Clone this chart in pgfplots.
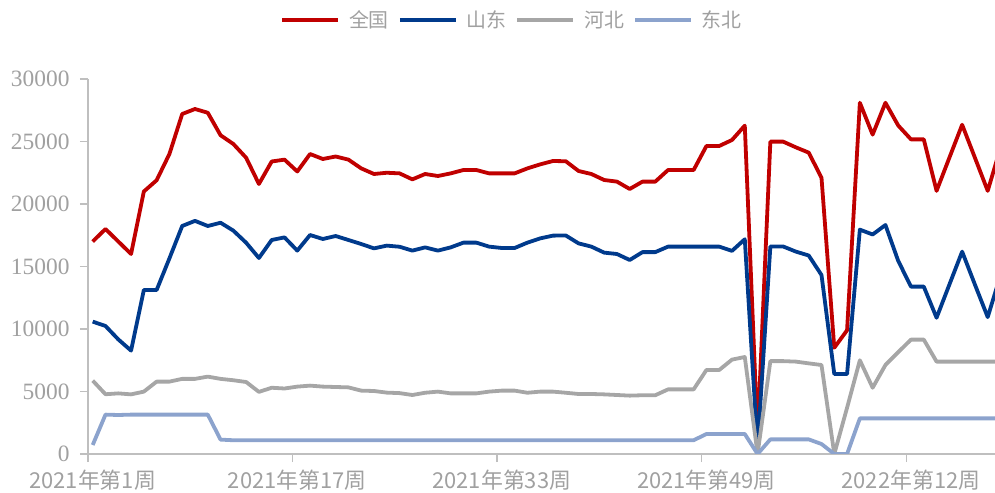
\documentclass[border=0pt]{standalone}
\usepackage{fontspec}
\setmainfont{Liberation Serif}
\newfontfamily\cjk{Noto Sans CJK SC}
\usepackage{pgfplots}
\pgfplotsset{compat=1.18}
\definecolor{cred}{RGB}{192,0,0}
\definecolor{cblue}{RGB}{0,58,140}
\definecolor{cgray}{RGB}{166,166,166}
\definecolor{clblue}{RGB}{140,163,205}
\definecolor{axisgray}{RGB}{191,191,191}
\definecolor{ticktext}{RGB}{160,160,160}
\begin{document}
\begin{tikzpicture}
\useasboundingbox (0,0) rectangle (995bp,493bp);
\begin{axis}[
  at={(88bp,39bp)}, anchor=south west,
  scale only axis, width=907bp, height=375bp,
  xmin=-0.368, xmax=70.57, ymin=0, ymax=30000,
  axis x line*=bottom, axis y line*=left,
  axis line style={draw=axisgray, line width=1.3bp},
  ytick={0,5000,10000,15000,20000,25000,30000},
  xtick={-0.368,15.632,31.632,47.632,63.632},
  xticklabels={2021年第1周,2021年第17周,2021年第33周,2021年第49周,2022年第12周},
  tick align=outside, major tick length=8bp,
  tick style={draw=axisgray, line width=1.3bp},
  /pgf/number format/assume math mode=true,
  scaled y ticks=false, /pgf/number format/1000 sep={},
  yticklabel style={font=\fontsize{23.5}{28}\selectfont, text=ticktext, xshift=-7bp},
  xticklabel style={font=\cjk\fontsize{22}{26}\selectfont, text=ticktext, xshift=4.7bp, yshift=-4.5bp},
  legend columns=4,
  legend style={at={(0.4675,1.157)}, anchor=center, draw=none, fill=none,
    font=\cjk\fontsize{20}{24}\selectfont, text=ticktext,
    /tikz/every odd column/.append style={column sep=7bp},
    /tikz/every even column/.append style={column sep=7bp}},
  legend image code/.code={\draw[#1] (0bp,0bp) -- (56bp,0bp);},
  every axis plot/.append style={line width=3.8bp, line join=round, mark=none},
]
\addplot[cred] coordinates {
(0,17000)(1,18000)(2,17000)(3,16000)(4,21000)(5,21900)(6,24000)(7,27200)(8,27600)(9,27300)
(10,25500)(11,24800)(12,23700)(13,21600)(14,23400)(15,23550)(16,22600)(17,24000)(18,23600)(19,23800)
(20,23550)(21,22850)(22,22400)(23,22500)(24,22450)(25,21970)(26,22400)(27,22240)(28,22450)(29,22720)
(30,22720)(31,22450)(32,22450)(33,22450)(34,22850)(35,23170)(36,23440)(37,23420)(38,22640)(39,22400)
(40,21920)(41,21790)(42,21200)(43,21790)(44,21790)(45,22720)(46,22720)(47,22720)(48,24640)(49,24640)
(50,25120)(51,26270)(52,1500)(53,24990)(54,24990)(55,24530)(56,24110)(57,22100)(58,8500)(59,9900)
(60,28100)(61,25550)(62,28100)(63,26280)(64,25170)(65,25170)(66,21050)(67,23700)(68,26340)(69,23700)
(70,21050)(71,24500)};
\addlegendentry{全国}
\addplot[cblue] coordinates {
(0,10590)(1,10240)(2,9170)(3,8270)(4,13120)(5,13120)(6,15650)(7,18240)(8,18650)(9,18240)
(10,18500)(11,17870)(12,16900)(13,15680)(14,17120)(15,17330)(16,16270)(17,17520)(18,17200)(19,17440)
(20,17120)(21,16800)(22,16450)(23,16670)(24,16580)(25,16270)(26,16530)(27,16270)(28,16530)(29,16910)
(30,16910)(31,16590)(32,16480)(33,16480)(34,16910)(35,17250)(36,17470)(37,17480)(38,16850)(39,16590)
(40,16110)(41,16000)(42,15520)(43,16150)(44,16150)(45,16590)(46,16590)(47,16590)(48,16590)(49,16590)
(50,16250)(51,17180)(52,500)(53,16600)(54,16600)(55,16190)(56,15880)(57,14320)(58,6400)(59,6400)
(60,17950)(61,17560)(62,18320)(63,15450)(64,13390)(65,13390)(66,10900)(67,13550)(68,16190)(69,13550)
(70,10950)(71,14300)};
\addlegendentry{山东}
\addplot[cgray] coordinates {
(0,5870)(1,4780)(2,4850)(3,4770)(4,4990)(5,5790)(6,5790)(7,6010)(8,6010)(9,6190)
(10,6010)(11,5900)(12,5760)(13,4970)(14,5300)(15,5240)(16,5390)(17,5470)(18,5390)(19,5360)
(20,5330)(21,5070)(22,5040)(23,4910)(24,4870)(25,4720)(26,4900)(27,4990)(28,4850)(29,4850)
(30,4850)(31,4990)(32,5070)(33,5070)(34,4900)(35,4990)(36,4990)(37,4900)(38,4800)(39,4800)
(40,4770)(41,4720)(42,4670)(43,4700)(44,4700)(45,5170)(46,5170)(47,5170)(48,6720)(49,6720)
(50,7550)(51,7760)(52,0)(53,7430)(54,7430)(55,7390)(56,7250)(57,7120)(58,0)(59,3700)
(60,7500)(61,5300)(62,7120)(63,8150)(64,9150)(65,9150)(66,7390)(67,7390)(68,7390)(69,7390)
(70,7390)(71,7390)};
\addlegendentry{河北}
\addplot[clblue] coordinates {
(0,720)(1,3150)(2,3120)(3,3150)(4,3150)(5,3150)(6,3150)(7,3150)(8,3150)(9,3150)
(10,1150)(11,1100)(12,1100)(13,1100)(14,1100)(15,1100)(16,1100)(17,1100)(18,1100)(19,1100)
(20,1100)(21,1100)(22,1100)(23,1100)(24,1100)(25,1100)(26,1100)(27,1100)(28,1100)(29,1100)
(30,1100)(31,1100)(32,1100)(33,1100)(34,1100)(35,1100)(36,1100)(37,1100)(38,1100)(39,1100)
(40,1100)(41,1100)(42,1100)(43,1100)(44,1100)(45,1100)(46,1100)(47,1100)(48,1600)(49,1600)
(50,1600)(51,1600)(52,0)(53,1170)(54,1170)(55,1170)(56,1170)(57,800)(58,0)(59,0)
(60,2850)(61,2850)(62,2850)(63,2850)(64,2850)(65,2850)(66,2850)(67,2850)(68,2850)(69,2850)
(70,2850)(71,2850)};
\addlegendentry{东北}
\end{axis}
\end{tikzpicture}
\end{document}
